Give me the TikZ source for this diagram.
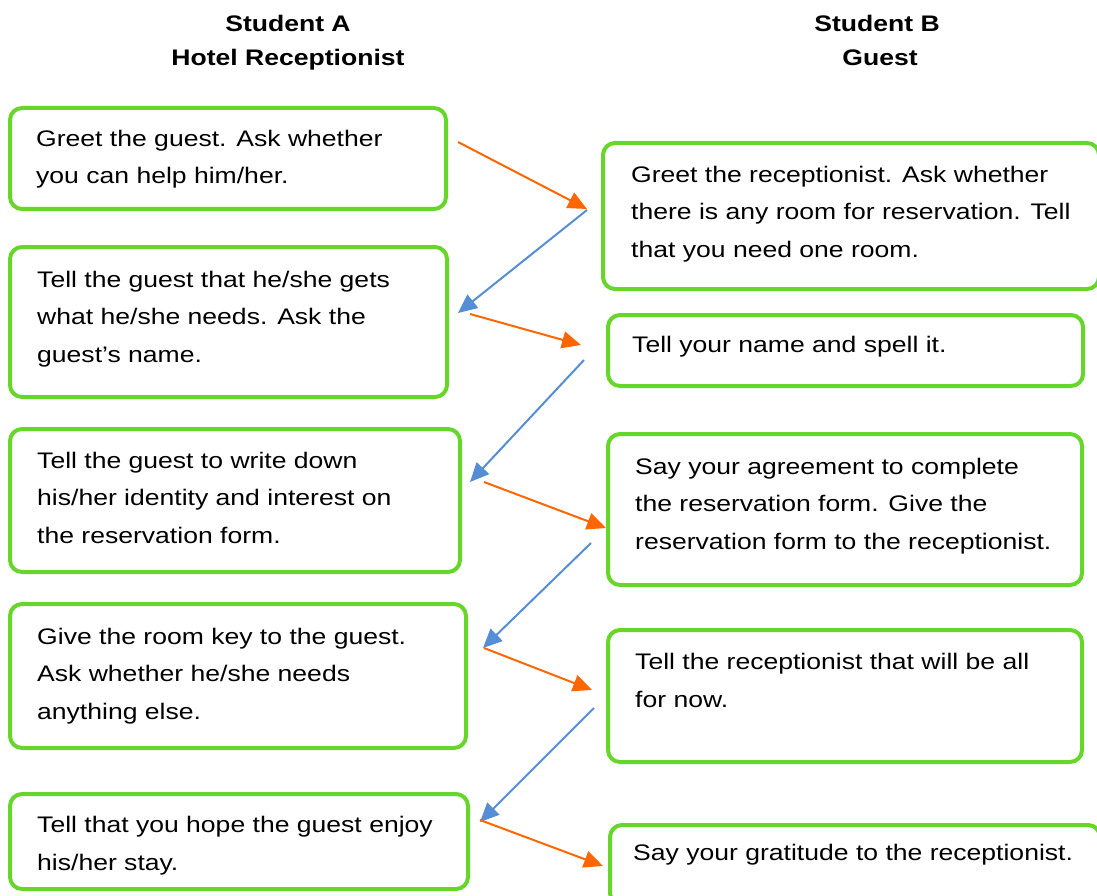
\documentclass[tikz,border=0pt]{standalone}
\usepackage{fontspec}
\usetikzlibrary{arrows.meta}
\newfontfamily\arialx[FakeStretch=1.18]{Liberation Sans}
\definecolor{boxgreen}{RGB}{102,214,42}
\definecolor{arrorange}{RGB}{255,102,0}
\definecolor{arrblue}{RGB}{85,142,213}
\tikzset{
  stepbox/.style={draw=boxgreen, line width=4pt, rounded corners=12pt},
  txt/.style={anchor=base west, inner sep=0pt, align=left, font={\arialx\fontsize{22.5}{37.2}\selectfont}},
  head/.style={anchor=base, inner sep=0pt, font={\arialx\fontsize{22.5}{34}\selectfont\bfseries}},
  toB/.style={draw=arrorange, line width=2pt, -{Triangle[length=19pt,width=17pt]}},
  toA/.style={draw=arrblue, line width=2pt, -{Triangle[length=19pt,width=17pt]}}
}
\begin{document}
\begin{tikzpicture}[x=1pt,y=-1pt]
\useasboundingbox (0,0) rectangle (1097,896);
% headers
\node[head] (hA1) at (288,32) {Student A};
\node[head] (hA2) at (288,66) {Hotel Receptionist};
\node[head] (hB1) at (877,32) {Student B};
\node[head] (hB2) at (880,66) {Guest};
% boxes
\draw[stepbox] (10,108) rectangle (446,209);
\draw[stepbox] (603,143) rectangle (1099,289);
\draw[stepbox] (10,247) rectangle (447,397);
\draw[stepbox] (608,315) rectangle (1083,386);
\draw[stepbox] (10,429) rectangle (460,572);
\draw[stepbox] (608,434) rectangle (1082,585);
\draw[stepbox] (10,604) rectangle (466,748);
\draw[stepbox] (608,630) rectangle (1082,762);
\draw[stepbox] (10,794) rectangle (468,889);
\draw[stepbox] (610,825) rectangle (1100,905);
% texts (anchored at the baseline of the last line)
\node[txt] (tA1) at (36,184) {Greet the guest. Ask whether\\you can help him/her.};
\node[txt] (tB1) at (631,257) {Greet the receptionist. Ask whether\\there is any room for reservation. Tell\\that you need one room.};
\node[txt] (tA2) at (37,362) {Tell the guest that he/she gets\\what he/she needs. Ask the\\guest’s name.};
\node[txt] (tB2) at (632,352) {Tell your name and spell it.};
\node[txt] (tA3) at (37,543) {Tell the guest to write down\\his/her identity and interest on\\the reservation form.};
\node[txt] (tB3) at (635,549) {Say your agreement to complete\\the reservation form. Give the\\reservation form to the receptionist.};
\node[txt] (tA4) at (37,719) {Give the room key to the guest.\\Ask whether he/she needs\\anything else.};
\node[txt] (tB4) at (635,707) {Tell the receptionist that will be all\\for now.};
\node[txt] (tA5) at (37,870) {Tell that you hope the guest enjoy\\his/her stay.};
\node[txt] (tB5) at (633,860) {Say your gratitude to the receptionist.};
% connector ends
\coordinate (o1s) at (458,142); \coordinate (o1e) at (587,209);
\coordinate (b1s) at (587,210); \coordinate (b1e) at (458,313);
\coordinate (o2s) at (470,314); \coordinate (o2e) at (581,345);
\coordinate (b2s) at (584,360); \coordinate (b2e) at (470,482);
\coordinate (o3s) at (484,482); \coordinate (o3e) at (606,528);
\coordinate (b3s) at (591,543); \coordinate (b3e) at (483,648);
\coordinate (o4s) at (484,648); \coordinate (o4e) at (592,690);
\coordinate (b4s) at (594,708); \coordinate (b4e) at (480,822);
\coordinate (o5s) at (480,820); \coordinate (o5e) at (603,866);
\draw[toB] (o1s) -- (o1e);
\draw[toA] (b1s) -- (b1e);
\draw[toB] (o2s) -- (o2e);
\draw[toA] (b2s) -- (b2e);
\draw[toB] (o3s) -- (o3e);
\draw[toA] (b3s) -- (b3e);
\draw[toB] (o4s) -- (o4e);
\draw[toA] (b4s) -- (b4e);
\draw[toB] (o5s) -- (o5e);
\end{tikzpicture}
\end{document}
